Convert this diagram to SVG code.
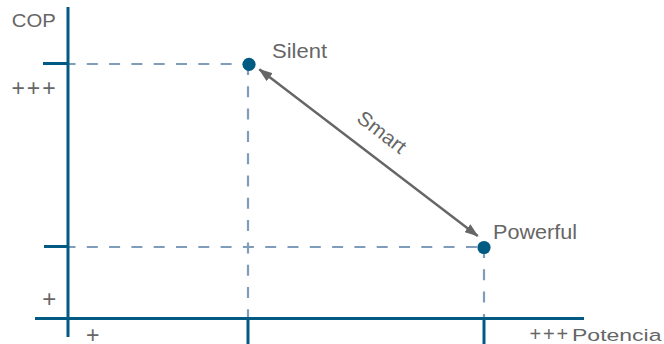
<svg xmlns="http://www.w3.org/2000/svg" width="664" height="344" viewBox="0 0 664 344">
<style>
.axis{stroke:#005a82;stroke-width:3;fill:none}
.guide{stroke:#7f9dba;stroke-width:2.2;stroke-dasharray:11 11.3;fill:none}
.dot{fill:#005a82}
.lbl{font-family:"Liberation Sans",Arial,sans-serif;fill:#666}
.conn{stroke:#666;stroke-width:2.4;fill:none}
</style>
<defs>
<marker id="ah" viewBox="0 0 14 10" refX="13" refY="5" markerWidth="14" markerHeight="10" markerUnits="userSpaceOnUse" orient="auto-start-reverse">
<path d="M0,0 L14,5 L0,10 Z" fill="#666"/>
</marker>
</defs>
<g id="guides">
<line class="guide" x1="64.5" y1="64" x2="248" y2="64"/>
<line class="guide" x1="248" y1="64" x2="248" y2="318"/>
<line class="guide" x1="64.5" y1="247" x2="484" y2="247"/>
<line class="guide" x1="484" y1="247" x2="484" y2="318"/>
</g>
<g id="axes">
<line class="axis" x1="68" y1="7" x2="68" y2="337"/>
<line class="axis" x1="35" y1="318.5" x2="584" y2="318.5"/>
<line class="axis" x1="43" y1="63.5" x2="68" y2="63.5"/>
<line class="axis" x1="44" y1="246.5" x2="68" y2="246.5"/>
<line class="axis" x1="248" y1="318" x2="248" y2="344"/>
<line class="axis" x1="484" y1="318" x2="484" y2="344"/>
</g>
<g id="axis-labels">
<text class="lbl" x="11.8" y="26.7" font-size="18.6" textLength="44" lengthAdjust="spacingAndGlyphs">COP</text>
<text class="lbl" x="11.4" y="95.8" font-size="23" letter-spacing="2">+++</text>
<text class="lbl" x="42.3" y="306.5" font-size="24">+</text>
<text class="lbl" x="86" y="342.5" font-size="23">+</text>
<text class="lbl" x="529.6" y="341" font-size="20" letter-spacing="1.8">+++</text>
<text class="lbl" x="572" y="341" font-size="17.2" textLength="89.5" lengthAdjust="spacingAndGlyphs">Potencia</text>
</g>
<g id="connectors">
<line class="conn" x1="477.7" y1="236" x2="259.3" y2="69.3" marker-start="url(#ah)" marker-end="url(#ah)"/>
<text class="lbl" font-size="20" text-anchor="middle" transform="translate(382,132) rotate(37.8)" y="7" textLength="56" lengthAdjust="spacingAndGlyphs">Smart</text>
</g>
<g id="node-silent">
<circle class="dot" cx="249" cy="64.3" r="6.6"/>
<text class="lbl" x="272" y="57.7" font-size="20" textLength="55" lengthAdjust="spacingAndGlyphs">Silent</text>
</g>
<g id="node-powerful">
<circle class="dot" cx="484" cy="247.5" r="6.6"/>
<text class="lbl" x="493" y="239.3" font-size="19.5" textLength="84" lengthAdjust="spacingAndGlyphs">Powerful</text>
</g>
</svg>
